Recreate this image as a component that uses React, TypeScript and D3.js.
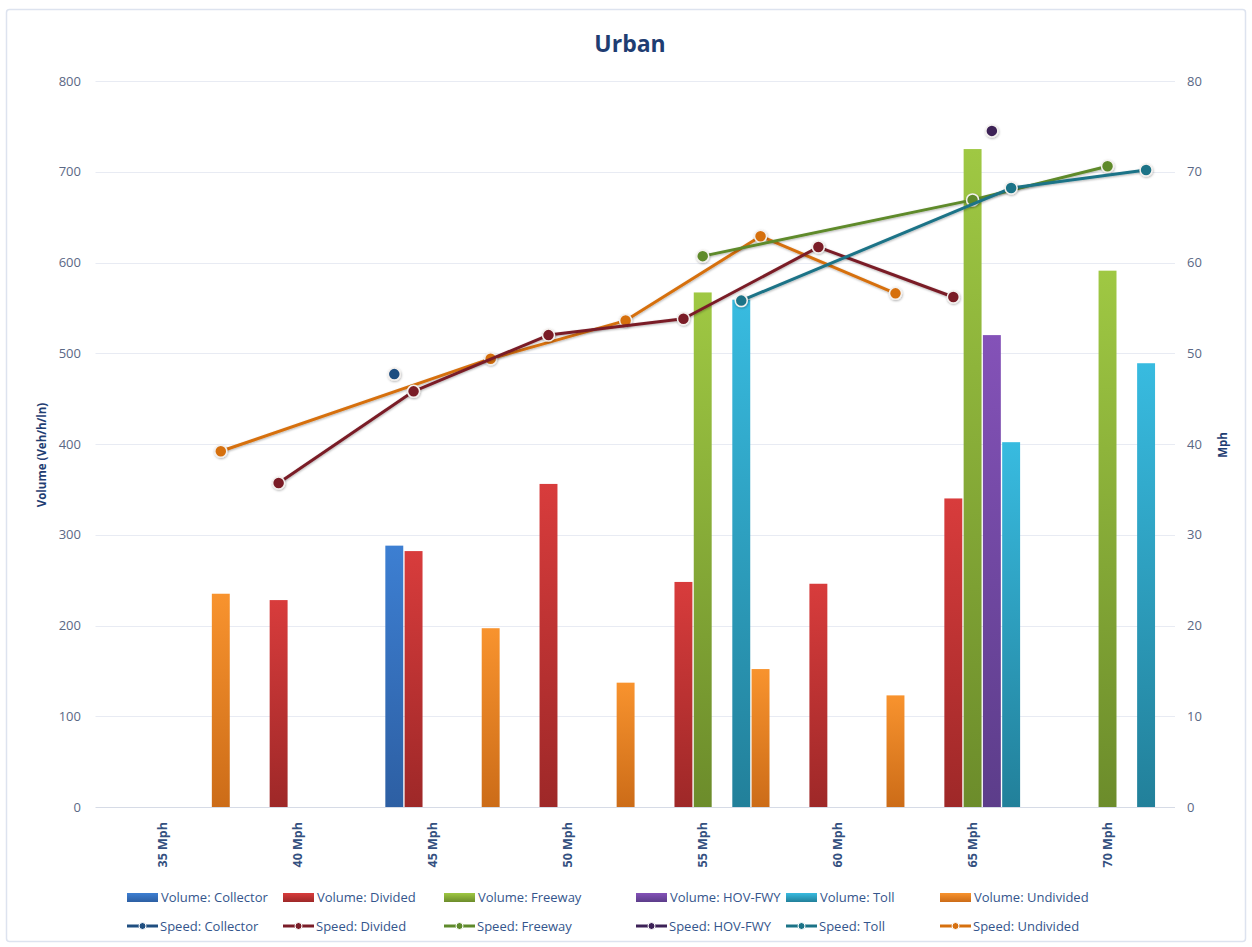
import { useEffect, useRef } from 'react';
import * as d3 from 'd3';

const categories = ['35 Mph', '40 Mph', '45 Mph', '50 Mph', '55 Mph', '60 Mph', '65 Mph', '70 Mph'];
const roadTypes = ['Collector', 'Divided', 'Freeway', 'HOV-FWY', 'Toll', 'Undivided'];

// volume (veh/h/ln), one value per category, null = no bar
const volumeCollector = [null, null, 288, null, null, null, null, null];
const volumeDivided = [null, 228, 282, 356, 248, 246, 340, null];
const volumeFreeway = [null, null, null, null, 567, null, 725, 591];
const volumeHOV = [null, null, null, null, null, null, 520, null];
const volumeToll = [null, null, null, null, 559, null, 402, 489];
const volumeUndivided = [235, null, 197, 137, 152, 123, null, null];

// speed (mph)
const speedCollector = [null, null, 47.7, null, null, null, null, null];
const speedDivided = [null, 35.7, 45.8, 52.0, 53.8, 61.7, 56.2, null];
const speedFreeway = [null, null, null, null, 60.7, null, 66.9, 70.6];
const speedHOV = [null, null, null, null, null, null, 74.5, null];
const speedToll = [null, null, null, null, 55.8, null, 68.2, 70.2];
const speedUndivided = [39.2, null, 49.4, 53.6, 62.9, 56.6, null, null];

const volumeTicks = [0, 100, 200, 300, 400, 500, 600, 700, 800];
const speedTicks = [0, 10, 20, 30, 40, 50, 60, 70, 80];

const volumes = [volumeCollector, volumeDivided, volumeFreeway, volumeHOV, volumeToll, volumeUndivided];
const speeds = [speedCollector, speedDivided, speedFreeway, speedHOV, speedToll, speedUndivided];

const barTop = ['#3d7fd2', '#d83c3c', '#9fc843', '#8452b8', '#38bbe0', '#f8932e'];
const barBottom = ['#2d5fa3', '#9e2828', '#6c8c2b', '#5c3d8a', '#22809a', '#cc6c18'];
const lineColors = ['#1f4e80', '#7a1d28', '#5e8a2b', '#3c2157', '#1b7387', '#d6700f'];

const W = 1252;
const H = 947;
const font = '"Open Sans", "Noto Sans", sans-serif';

export default function App() {
    const svgRef = useRef<SVGSVGElement>(null);

    useEffect(() => {
        if (!svgRef.current) return;
        const svg = d3.select(svgRef.current);
        svg.selectAll('*').remove();

        const left = 95.5, right = 1175, top = 81, bottom = 807;

        const x = d3.scaleBand().domain(categories).range([left, right]);
        const bw = x.bandwidth();
        // first slot of each cluster is empty in the original
        const x1 = d3.scaleBand().domain(roadTypes).range([bw / 7, bw]).paddingInner(0.07).paddingOuter(0.035);
        const yL = d3.scaleLinear().domain([0, 800]).range([bottom, top]);
        const yR = d3.scaleLinear().domain([0, 80]).range([bottom, top]);

        const defs = svg.append('defs');
        roadTypes.forEach((t, i) => {
            const g = defs.append('linearGradient')
                .attr('id', `grad${i}`)
                .attr('x1', 0).attr('y1', 0).attr('x2', 0).attr('y2', 1);
            g.append('stop').attr('offset', '0%').attr('stop-color', barTop[i]);
            g.append('stop').attr('offset', '100%').attr('stop-color', barBottom[i]);
        });
        const sh = defs.append('filter').attr('id', 'shadow').attr('x', '-50%').attr('y', '-50%').attr('width', '200%').attr('height', '200%');
        sh.append('feDropShadow').attr('dx', 0.5).attr('dy', 1).attr('stdDeviation', 1).attr('flood-color', '#000').attr('flood-opacity', 0.3);

        // frame
        svg.append('rect')
            .attr('x', 6.5).attr('y', 9.5).attr('width', 1239).attr('height', 932)
            .attr('rx', 3).attr('fill', '#fff').attr('stroke', '#dde3ef').attr('stroke-width', 1.5);

        // title
        svg.append('text')
            .attr('x', 630).attr('y', 52)
            .attr('text-anchor', 'middle')
            .attr('font-family', font).attr('font-size', 23).attr('font-weight', 700)
            .attr('fill', '#1f3d72')
            .text('Urban');

        // gridlines
        svg.append('g').selectAll('line')
            .data(volumeTicks)
            .enter().append('line')
            .attr('x1', left).attr('x2', right)
            .attr('y1', d => Math.round(yL(d)) + 0.5).attr('y2', d => Math.round(yL(d)) + 0.5)
            .attr('stroke', d => d === 0 ? '#d6dbe6' : '#e8ebf3').attr('stroke-width', 1);

        // left ticks
        svg.append('g').selectAll('text')
            .data(volumeTicks)
            .enter().append('text')
            .attr('x', 81).attr('y', d => yL(d))
            .attr('dy', '0.35em').attr('text-anchor', 'end')
            .attr('font-family', font).attr('font-size', 13).attr('fill', '#5b6885')
            .text(d => d);

        // right ticks
        svg.append('g').selectAll('text')
            .data(speedTicks)
            .enter().append('text')
            .attr('x', 1187).attr('y', d => yR(d))
            .attr('dy', '0.35em').attr('text-anchor', 'start')
            .attr('font-family', font).attr('font-size', 13).attr('fill', '#5b6885')
            .text(d => d);

        // axis titles
        svg.append('text')
            .attr('transform', `translate(46,455) rotate(-90)`)
            .attr('text-anchor', 'middle')
            .attr('font-family', font).attr('font-size', 11.5).attr('font-weight', 700)
            .attr('fill', '#1f3d72')
            .text('Volume (Veh/h/ln)');
        svg.append('text')
            .attr('transform', `translate(1227,445) rotate(-90)`)
            .attr('text-anchor', 'middle')
            .attr('font-family', font).attr('font-size', 11.5).attr('font-weight', 700)
            .attr('fill', '#1f3d72')
            .text('Mph');

        // category labels
        svg.append('g').selectAll('text')
            .data(categories)
            .enter().append('text')
            .attr('transform', d => `translate(${(x(d) || 0) + bw / 2 + 4.5},822) rotate(-90)`)
            .attr('text-anchor', 'end')
            .attr('font-family', font).attr('font-size', 12.5).attr('font-weight', 700)
            .attr('fill', '#34507f')
            .text(d => d);

        // bars
        const bars: { cat: string; type: number; v: number }[] = [];
        volumes.forEach((arr, ti) => arr.forEach((v, ci) => {
            if (v != null) bars.push({ cat: categories[ci], type: ti, v });
        }));
        svg.append('g').selectAll('rect')
            .data(bars)
            .enter().append('rect')
            .attr('x', d => (x(d.cat) || 0) + (x1(roadTypes[d.type]) || 0))
            .attr('y', d => yL(d.v))
            .attr('width', x1.bandwidth())
            .attr('height', d => yL(0) - yL(d.v))
            .attr('fill', d => `url(#grad${d.type})`);

        // speed lines
        const px = (ci: number, ti: number) => (x(categories[ci]) || 0) + (x1(roadTypes[ti]) || 0) + x1.bandwidth() / 2;
        const line = d3.line<{ x: number; y: number }>().x(d => d.x).y(d => d.y);
        const order = [5, 1, 2, 4, 0, 3];
        order.forEach(ti => {
            const pts = speeds[ti]
                .map((v, ci) => v == null ? null : { x: px(ci, ti), y: yR(v) })
                .filter((p): p is { x: number; y: number } => p !== null);
            const g = svg.append('g');
            if (pts.length > 1) {
                g.append('path')
                    .attr('d', line(pts) || '')
                    .attr('fill', 'none')
                    .attr('stroke', lineColors[ti])
                    .attr('stroke-width', 3)
                    .attr('stroke-linejoin', 'round')
                    .attr('filter', 'url(#shadow)');
            }
            g.selectAll('circle')
                .data(pts)
                .enter().append('circle')
                .attr('cx', d => d.x).attr('cy', d => d.y)
                .attr('r', 6)
                .attr('fill', lineColors[ti])
                .attr('stroke', '#f4f1ee').attr('stroke-width', 1.5)
                .attr('filter', 'url(#shadow)');
        });

        // legend
        const legX = [127, 283, 444, 636, 786, 940];
        const leg = svg.append('g').attr('font-family', font).attr('font-size', 13).attr('fill', '#34558c');
        roadTypes.forEach((t, i) => {
            leg.append('rect')
                .attr('x', legX[i]).attr('y', 893).attr('width', 31).attr('height', 9)
                .attr('fill', `url(#grad${i})`);
            leg.append('text')
                .attr('x', legX[i] + 34).attr('y', 897.5).attr('dy', '0.35em')
                .text(`Volume: ${t}`);
            leg.append('line')
                .attr('x1', legX[i]).attr('x2', legX[i] + 31)
                .attr('y1', 926).attr('y2', 926)
                .attr('stroke', lineColors[i]).attr('stroke-width', 3);
            leg.append('circle')
                .attr('cx', legX[i] + 15.5).attr('cy', 926).attr('r', 3.5)
                .attr('fill', lineColors[i]).attr('stroke', '#fff').attr('stroke-width', 1);
            leg.append('text')
                .attr('x', legX[i] + 33).attr('y', 926).attr('dy', '0.35em')
                .text(`Speed: ${t}`);
        });
    }, []);

    return (
        <svg
            ref={svgRef}
            width={W}
            height={H}
            style={{ position: 'absolute', left: 0, top: 0, background: '#fff' }}
        />
    );
}
